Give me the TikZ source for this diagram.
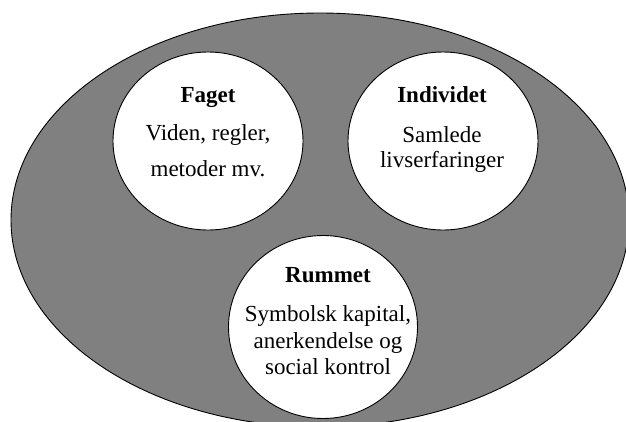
\documentclass[tikz,border=0pt]{standalone}
\usepackage{fontspec}
\setmainfont{Liberation Serif}
\usetikzlibrary{shapes.geometric}
\tikzset{
  outerfield/.style={ellipse, draw=black, line width=0.9pt, fill=gray50, inner sep=0pt},
  sphere/.style={ellipse, draw=black, line width=0.9pt, fill=white, inner sep=0pt},
  title/.style={anchor=base, inner sep=0pt, font=\fontsize{23}{27}\selectfont\bfseries},
  body/.style={anchor=base, inner sep=0pt, font=\fontsize{23}{27}\selectfont},
}
\definecolor{gray50}{HTML}{808080}
\begin{document}
\begin{tikzpicture}[x=1pt,y=-1pt]
\useasboundingbox (0,0) rectangle (626,421);
\begin{scope}
\clip (0,0) rectangle (626,421);
\node[outerfield, minimum width=618pt, minimum height=414pt] (outer) at (320,220) {};
\end{scope}
\node[sphere, minimum width=190pt, minimum height=178pt] (faget) at (208,141) {};
\node[sphere, minimum width=190pt, minimum height=178pt] (individet) at (443,141) {};
\node[sphere, minimum width=189pt, minimum height=183pt] (rummet) at (323,327) {};
% Faget
\node[title] (fagetT) at (208,102.7) {Faget};
\node[body] (fagetA) at (208,140) {Viden, regler,};
\node[body] (fagetB) at (208,176.7) {metoder mv.};
% Individet
\node[title] (indT) at (442,102.7) {Individet};
\node[body] (indA) at (442,142.7) {Samlede};
\node[body] (indB) at (442,167.3) {livserfaringer};
% Rummet
\node[title] (rumT) at (328,282.7) {Rummet};
\node[body] (rumA) at (328,321.7) {Symbolsk kapital,};
\node[body] (rumB) at (328,348.3) {anerkendelse og};
\node[body] (rumC) at (328,374) {social kontrol};
\end{tikzpicture}
\end{document}
